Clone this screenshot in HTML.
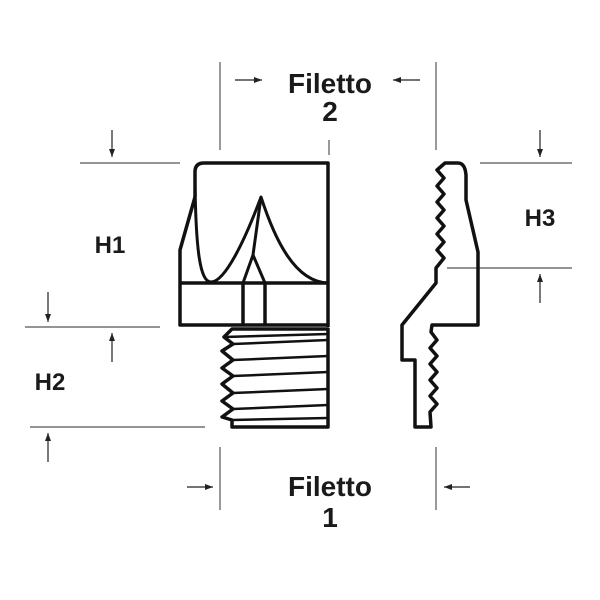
<!DOCTYPE html>
<html><head><style>html,body{margin:0;padding:0;background:#fff}svg{display:block}</style></head>
<body>
<svg width="600" height="600" viewBox="0 0 600 600" xmlns="http://www.w3.org/2000/svg">
<defs>
<marker id="a" markerWidth="8" markerHeight="6" refX="8" refY="3" orient="auto" markerUnits="userSpaceOnUse"><path d="M0,0 L8,3 L0,6 z" fill="#222"/></marker>
</defs>
<g stroke="#555" stroke-width="1.2" fill="none">
<line x1="220" y1="62" x2="220" y2="150"/>
<line x1="436" y1="62" x2="436" y2="150"/>
<line x1="220" y1="447" x2="220" y2="510"/>
<line x1="436" y1="447" x2="436" y2="510"/>
<line x1="80" y1="163" x2="180" y2="163"/>
<line x1="25" y1="327" x2="160" y2="327"/>
<line x1="30" y1="427" x2="205" y2="427"/>
<line x1="480" y1="163" x2="572" y2="163"/>
<line x1="447" y1="268" x2="572" y2="268"/>
<line x1="329" y1="140" x2="329" y2="155"/>
</g>
<g stroke="#222" stroke-width="1.2" marker-end="url(#a)">
<line x1="235" y1="80" x2="262" y2="80"/>
<line x1="420" y1="80" x2="393" y2="80"/>
<line x1="187" y1="487" x2="213" y2="487"/>
<line x1="470" y1="487" x2="444" y2="487"/>
<line x1="112" y1="130" x2="112" y2="157"/>
<line x1="48" y1="292" x2="48" y2="322"/>
<line x1="112" y1="362" x2="112" y2="333"/>
<line x1="48" y1="462" x2="48" y2="433"/>
<line x1="540" y1="130" x2="540" y2="157"/>
<line x1="540" y1="303" x2="540" y2="274"/>
</g>
<g font-family="Liberation Sans, sans-serif" font-weight="bold" fill="#1a1a1a" text-anchor="middle">
<text x="330" y="93" font-size="28">Filetto</text>
<text x="330" y="121" font-size="28">2</text>
<text x="330" y="496" font-size="28">Filetto</text>
<text x="330" y="527" font-size="28">1</text>
<text x="110" y="253" font-size="24">H1</text>
<text x="50" y="390" font-size="24">H2</text>
<text x="540" y="226" font-size="24">H3</text>
</g>
<g stroke="#111" stroke-width="3.5" fill="none" stroke-linejoin="round">
<!-- main body -->
<path d="M195,197 L195,172 Q195,163 204,163 L328,163 L328,327"/>
<path d="M195,197 L180,250 L180,325 L328,325"/>
<line x1="180" y1="283" x2="328" y2="283"/>
<line x1="243" y1="283" x2="243" y2="325"/>
<line x1="265" y1="283" x2="265" y2="325"/>
<path d="M195,185 C196,250 200,282 211,282 C225,282 245,240 261,197 C275,240 295,282 328,283" stroke-width="3"/>
<path d="M261,197 L253,255 L243,283 M253,255 L265,283" stroke-width="3"/>
<!-- thread -->
<path d="M232,329 L224,337 L233,344 L222,351 L233,360 L222,368 L233,376 L222,384 L233,393 L222,401 L233,409 L222,417 L232,420 L232,427 L328,427 L328,329 Z"/>
<g stroke-width="2.5">
<line x1="233" y1="344" x2="328" y2="340"/>
<line x1="233" y1="360" x2="328" y2="356"/>
<line x1="233" y1="376" x2="328" y2="372"/>
<line x1="233" y1="393" x2="328" y2="389"/>
<line x1="233" y1="409" x2="328" y2="405"/>
<line x1="232" y1="420" x2="328" y2="418"/>
<line x1="224" y1="337" x2="328" y2="334"/>
</g>
<!-- right profile -->
<path d="M445,163 L458,163 Q465,163 466,175 L466,200 L478,252 L478,325 L432,325 L431,332 L437,340 L430,348 L437,356 L430,364 L437,372 L430,380 L437,388 L430,396 L437,404 L430,412 L431,427 L415,427 L415,360 L402,360 L402,325 L436,283 L436,268 L444,258 L437,250 L444,242 L437,234 L444,226 L437,218 L444,210 L437,202 L444,194 L437,186 L444,178 L437,170 Z"/>
</g>
</svg>
</body></html>
